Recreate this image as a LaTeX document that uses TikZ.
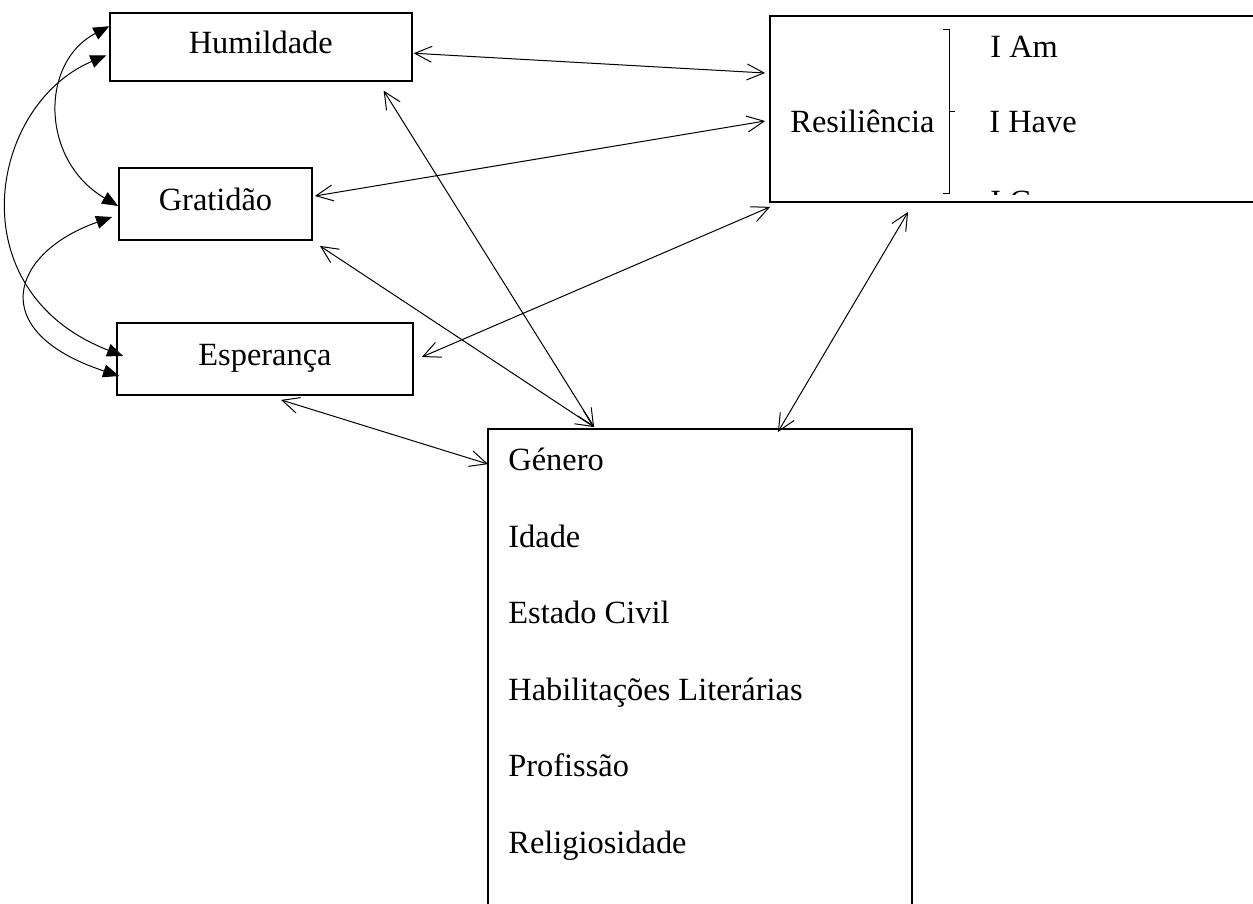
\documentclass[tikz,border=0pt]{standalone}
\usepackage{fontspec}
\setmainfont{Liberation Serif}
\usepackage{tikz}
\usetikzlibrary{arrows.meta, calc}
\tikzset{
  varbox/.style={draw, line width=0.9pt, inner sep=0pt, text height=8pt, text depth=1.5pt},
  txt/.style={anchor=base west, inner sep=0pt},
  conn/.style={line width=0.5pt, {Straight Barb[length=8.5pt,width=8pt]}-{Straight Barb[length=8.5pt,width=8pt]}},
  corr/.style={line width=0.5pt, {Triangle[length=8pt,width=6.5pt]}-{Triangle[length=8pt,width=6.5pt]}}
}

\begin{document}
\begin{tikzpicture}[x=0.5pt, y=-0.5pt, font=\fontsize{16.2}{19}\selectfont]
\useasboundingbox (0,0) rectangle (1253,904);
% the three variables on the left
\node[varbox, minimum width=151pt, minimum height=34pt] (hum) at (260.75,47.25) {Humildade};
\node[varbox, minimum width=96.5pt, minimum height=36pt] (grat) at (215.5,204) {Gratidão};
\node[varbox, minimum width=148pt, minimum height=36pt] (esp) at (265,359) {Esperança};
% resilience box and its factors
\node[draw, line width=0.9pt, minimum width=245pt, minimum height=93pt] (res) at (1015,109) {};
\node[txt] (resl) at (790,133) {Resiliência};
\draw[line width=0.5pt] (943,30) -- (949,30) -- (949,193) -- (943,193);
\draw[line width=0.5pt] (949,112) -- (955,112);
\node[txt] (iam) at (990,58) {I Am};
\node[txt] (ihave) at (989,133) {I Have};
\begin{scope}
  \clip (960,150) rectangle (1100,194);
  \node[txt] (ican) at (990,213) {I Can};
\end{scope}
% sociodemographic variables
\node[draw, line width=0.9pt, minimum width=212pt, minimum height=241pt] (dem) at (700,670) {};
\node[txt] (gen) at (508,470) {Género};
\node[txt] (ida) at (508,547) {Idade};
\node[txt] (civ) at (508,623) {Estado Civil};
\node[txt] (hab) at (508,700) {Habilitações Literárias};
\node[txt] (prof) at (508,776) {Profissão};
\node[txt] (rel) at (508,853) {Religiosidade};
% correlations between the left variables
\draw[corr] ($(hum.west)+(0.5,-21)$) .. controls (40,62) and (40,160) .. ($(grat.west)+(0,2)$);
\draw[corr] ($(hum.west)+(-2.5,8)$) .. controls (-11,105) and (-44,291) .. ($(esp.west)+(7,-3)$);
\draw[corr] ($(grat.west)+(-6,13)$) .. controls (12,252) and (-17,331) .. ($(esp.west)+(3,17)$);
% relations with resilience
\draw[conn] ($(hum.east)+(1,6)$) -- ($(res.west)+(-4,-36)$);
\draw[conn] ($(grat.east)+(2,-8)$) -- ($(res.west)+(-4,12)$);
\draw[conn] ($(esp.east)+(8,-2)$) -- ($(res.south west)+(1,4)$);
% relations with the sociodemographic box
\draw[conn] ($(hum.south east)+(-29,8.5)$) -- ($(dem.north west)+(107,-1)$);
\draw[conn] ($(grat.south east)+(7,5)$) -- ($(dem.north west)+(107,-1)$);
\draw[conn] ($(esp.south)+(16,4)$) -- ($(dem.north west)+(1,36)$);
\draw[conn] ($(res.south west)+(139,9)$) -- ($(dem.north east)+(-135,4)$);
\end{tikzpicture}
\end{document}
